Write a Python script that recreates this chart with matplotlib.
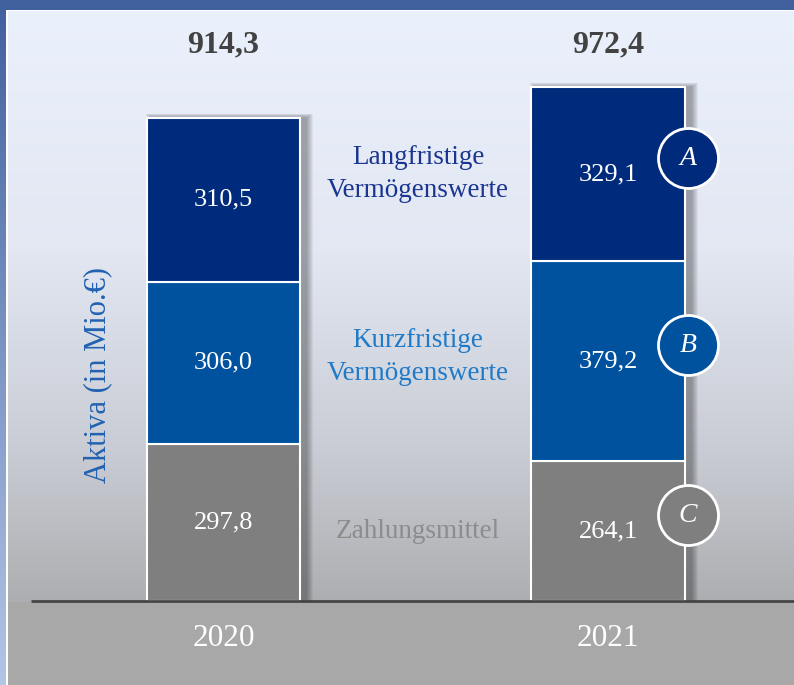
import numpy as np
import matplotlib
matplotlib.use("Agg")
import matplotlib.pyplot as plt

years = ["2020", "2021"]
zahlungsmittel = [297.8, 264.1]
kurzfristige = [306.0, 379.2]
langfristige = [310.5, 329.1]
totals = ["914,3", "972,4"]
seg_labels = [["297,8", "306,0", "310,5"], ["264,1", "379,2", "329,1"]]
series_names = ["Zahlungsmittel", "Kurzfristige\nVermögenswerte", "Langfristige\nVermögenswerte"]
circle_letters = ["C", "B", "A"]
ylabel = "Aktiva (in Mio.€)"

colors = ["#7f7f7f", "#00519e", "#002a7c"]
name_colors = ["#8c8c8c", "#1f7ac8", "#1a3690"]

W, H = 794, 685
fig = plt.figure(figsize=(W / 100, H / 100), dpi=100)

# background
bg = fig.add_axes([0, 0, 1, 1])
bg.set_axis_off()
img = np.zeros((H, W, 3))
def hex2rgb(h):
    h = h.lstrip("#")
    return np.array([int(h[i:i + 2], 16) / 255 for i in (0, 2, 4)])
stops_y = [11, 250, 450, 600]
stops_c = [hex2rgb(c) for c in ["#ebf1fc", "#e2e7f2", "#c9ccd4", "#adaeb1"]]
for y in range(H):
    if y <= 601:
        c = np.array([np.interp(y, stops_y, [s[k] for s in stops_c]) for k in range(3)])
    else:
        c = hex2rgb("#a8a8a8")
    img[y, :, :] = c
for y in range(H):
    t = y / H
    img[y, 0:6, :] = (1 - t) * hex2rgb("#40609e") + t * hex2rgb("#b4c6e6")
img[:, 6:8, :] = 1.0
img[0:10, :, :] = hex2rgb("#40609e")
img[10, 8:, :] = 1.0
bg.imshow(img, aspect="auto", extent=[0, W, H, 0], interpolation="nearest")
bg.set_xlim(0, W)
bg.set_ylim(H, 0)

ax = fig.add_axes([0, 0, 1, 1])
ax.set_facecolor("none")
ax.set_axis_off()
scale = 0.5285          # pixels per value unit
xscale = 384.5          # pixels per category step
ax.set_xlim(-223.5 / xscale, -223.5 / xscale + W / xscale)
ax.set_ylim(-84 / scale, 601 / scale)

x = np.arange(len(years))
width = 0.40
series = [zahlungsmittel, kurzfristige, langfristige]
total_vals = np.sum(np.array(series), axis=0)

# soft shadow behind bars (mostly to the right)
for k in range(1, 8):
    grow = k * 1.0 / xscale
    ax.bar(x + 6 / xscale, total_vals + k * 0.6 / scale, width + 2 * grow, bottom=0,
           color="black", alpha=0.05, linewidth=0, zorder=2)

bottoms = np.zeros(len(years))
name_offsets = [0, 8, 0]
for i, vals in enumerate(series):
    vals = np.array(vals)
    ax.bar(x, vals, width, bottom=bottoms, color=colors[i], edgecolor="white",
           linewidth=1.5, zorder=3)
    for j in range(len(years)):
        ax.text(x[j], bottoms[j] + vals[j] / 2, seg_labels[j][i], color="white",
                ha="center", va="center", fontsize=19, family="Liberation Serif", zorder=5)
    ax.text(0.506, bottoms[1] + vals[1] / 2 + name_offsets[i], series_names[i],
            color=name_colors[i], ha="center", va="center", fontsize=19.5,
            family="Liberation Serif", linespacing=1.45, zorder=5)
    cy = bottoms[1] + vals[1] / 2 + 30
    cx = x[1] + width / 2 + 0.008
    ax.scatter([cx], [cy], s=(60 * 0.72) ** 2, color=colors[i],
               edgecolor="white", linewidth=2, zorder=6)
    ax.text(cx, cy, circle_letters[i], color="white", ha="center",
            va="center", fontsize=20, family="Liberation Serif", style="italic", zorder=7)
    bottoms = bottoms + vals

for j in range(len(years)):
    ax.text(x[j], (601 - 45) / scale, totals[j], color="#424242", ha="center", va="center",
            fontsize=23, fontweight="bold", family="Liberation Serif")
    ax.text(x[j], -38 / scale, years[j], color="white", ha="center", va="center",
            fontsize=22.5, family="Liberation Serif")

ax.plot([-0.5, 2.0], [0, 0], color="#454545", lw=2, zorder=4, solid_capstyle="butt")
ax.set_xlim(-223.5 / xscale, -223.5 / xscale + W / xscale)

ax.text(-0.328, (601 - 375) / scale, ylabel, rotation=90, color="#2162b0", ha="center",
        va="center", fontsize=22, family="Liberation Serif")

fig.savefig("out.png", dpi=100)
